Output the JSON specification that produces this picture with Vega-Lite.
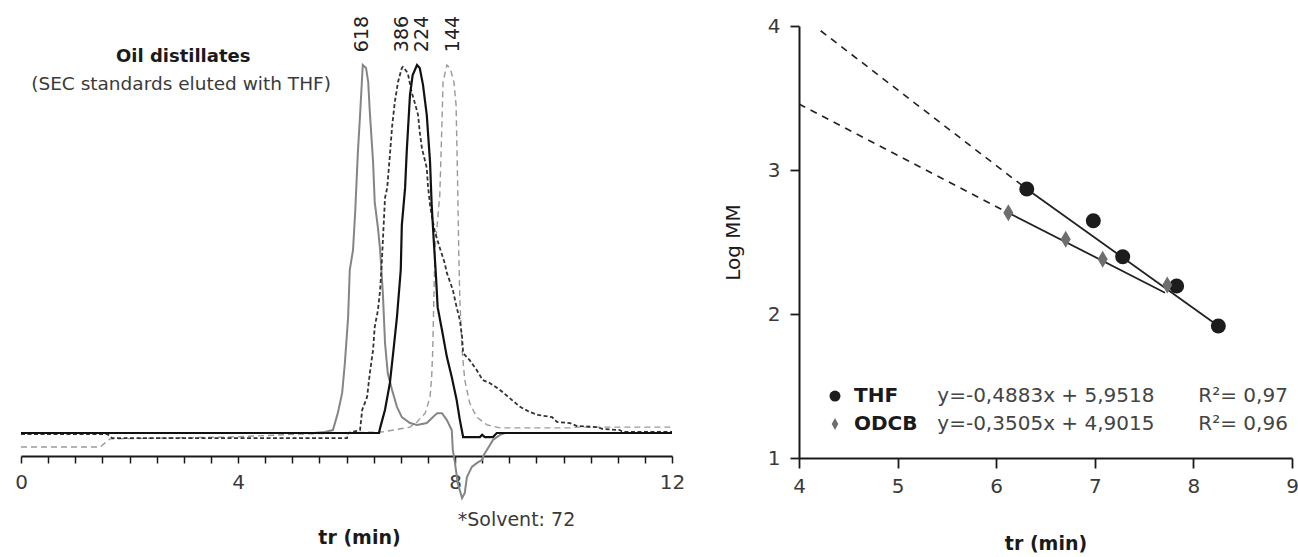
{
  "$schema": "https://vega.github.io/schema/vega-lite/v6.json",
  "padding": {"left": 14, "top": 15, "right": 0, "bottom": 2},
  "background": "white",
  "spacing": 38,
  "config": {
    "font": "DejaVu Sans",
    "view": {"stroke": null},
    "axis": {
      "grid": false,
      "domainColor": "#1a1a1a",
      "tickColor": "#1a1a1a",
      "labelColor": "#3a3a3a",
      "titleColor": "#1a1a1a",
      "labelFont": "DejaVu Sans",
      "titleFont": "DejaVu Sans",
      "labelFontSize": 20,
      "titleFontSize": 19,
      "titleFontWeight": "bold",
      "labelFlush": false,
      "labelOverlap": false
    }
  },
  "datasets": {
    "traces": [
      {"series": "144", "t": 0, "s": -3.8}, {"series": "144", "t": 1.46, "s": -3.8}, {"series": "144", "t": 1.64, "s": -1.6}, {"series": "144", "t": 3.85, "s": -1.1}, {"series": "144", "t": 5.14, "s": -0.3}, {"series": "144", "t": 6.67, "s": 0.3}, {"series": "144", "t": 7.17, "s": 1.6}, {"series": "144", "t": 7.3, "s": 3}, {"series": "144", "t": 7.45, "s": 5.4}, {"series": "144", "t": 7.54, "s": 9.8}, {"series": "144", "t": 7.57, "s": 15.2}, {"series": "144", "t": 7.59, "s": 22.6}, {"series": "144", "t": 7.63, "s": 49.7}, {"series": "144", "t": 7.72, "s": 64.7}, {"series": "144", "t": 7.76, "s": 84.5}, {"series": "144", "t": 7.78, "s": 95.4}, {"series": "144", "t": 7.85, "s": 100}, {"series": "144", "t": 7.91, "s": 99.2}, {"series": "144", "t": 7.98, "s": 95.4}, {"series": "144", "t": 8.02, "s": 89.1}, {"series": "144", "t": 8.05, "s": 66.6}, {"series": "144", "t": 8.07, "s": 48.4}, {"series": "144", "t": 8.09, "s": 36.1}, {"series": "144", "t": 8.13, "s": 22.6}, {"series": "144", "t": 8.18, "s": 14.4}, {"series": "144", "t": 8.27, "s": 8.2}, {"series": "144", "t": 8.4, "s": 4.3}, {"series": "144", "t": 8.59, "s": 2.2}, {"series": "144", "t": 8.83, "s": 1.4}, {"series": "144", "t": 10.12, "s": 1.4}, {"series": "144", "t": 10.25, "s": 1.6}, {"series": "144", "t": 12, "s": 1.6},

      {"series": "618", "t": 5.4, "s": 0}, {"series": "618", "t": 5.6, "s": 0.3}, {"series": "618", "t": 5.75, "s": 0.8}, {"series": "618", "t": 5.84, "s": 5.4}, {"series": "618", "t": 5.92, "s": 10.9}, {"series": "618", "t": 5.97, "s": 19}, {"series": "618", "t": 6.03, "s": 31.5}, {"series": "618", "t": 6.06, "s": 44.3}, {"series": "618", "t": 6.12, "s": 49.7}, {"series": "618", "t": 6.16, "s": 60}, {"series": "618", "t": 6.21, "s": 76.4}, {"series": "618", "t": 6.25, "s": 86.4}, {"series": "618", "t": 6.29, "s": 97.3}, {"series": "618", "t": 6.3, "s": 100}, {"series": "618", "t": 6.36, "s": 99.2}, {"series": "618", "t": 6.4, "s": 95.4}, {"series": "618", "t": 6.43, "s": 87.2}, {"series": "618", "t": 6.49, "s": 73.6}, {"series": "618", "t": 6.52, "s": 62.8}, {"series": "618", "t": 6.58, "s": 55.7}, {"series": "618", "t": 6.62, "s": 49.7}, {"series": "618", "t": 6.67, "s": 38}, {"series": "618", "t": 6.71, "s": 24.5}, {"series": "618", "t": 6.76, "s": 16.3}, {"series": "618", "t": 6.84, "s": 11.7}, {"series": "618", "t": 6.93, "s": 7.1}, {"series": "618", "t": 7.02, "s": 4.3}, {"series": "618", "t": 7.17, "s": 2.7}, {"series": "618", "t": 7.3, "s": 2.2}, {"series": "618", "t": 7.48, "s": 2.7}, {"series": "618", "t": 7.59, "s": 4.3}, {"series": "618", "t": 7.67, "s": 5.4}, {"series": "618", "t": 7.76, "s": 5.4}, {"series": "618", "t": 7.85, "s": 3.5}, {"series": "618", "t": 7.94, "s": 0.8}, {"series": "618", "t": 7.96, "s": -4.6}, {"series": "618", "t": 8.0, "s": -8.2}, {"series": "618", "t": 8.05, "s": -13.6}, {"series": "618", "t": 8.13, "s": -17.7}, {"series": "618", "t": 8.18, "s": -16.3}, {"series": "618", "t": 8.22, "s": -12}, {"series": "618", "t": 8.31, "s": -9.2}, {"series": "618", "t": 8.4, "s": -8.2}, {"series": "618", "t": 8.5, "s": -7.3}, {"series": "618", "t": 8.53, "s": -6}, {"series": "618", "t": 8.61, "s": -4.1}, {"series": "618", "t": 8.7, "s": -1.9}, {"series": "618", "t": 8.83, "s": -0.5}, {"series": "618", "t": 8.92, "s": 0},

      {"series": "386", "t": 0, "s": -0.3}, {"series": "386", "t": 1.59, "s": -0.3}, {"series": "386", "t": 1.68, "s": -1.4}, {"series": "386", "t": 6.01, "s": -1.4}, {"series": "386", "t": 6.03, "s": 0}, {"series": "386", "t": 6.25, "s": 0.8}, {"series": "386", "t": 6.29, "s": 6.3}, {"series": "386", "t": 6.38, "s": 9.8}, {"series": "386", "t": 6.43, "s": 16.3}, {"series": "386", "t": 6.49, "s": 22.6}, {"series": "386", "t": 6.52, "s": 28.8}, {"series": "386", "t": 6.58, "s": 33.4}, {"series": "386", "t": 6.62, "s": 38.9}, {"series": "386", "t": 6.65, "s": 46.2}, {"series": "386", "t": 6.71, "s": 63.9}, {"series": "386", "t": 6.75, "s": 66.6}, {"series": "386", "t": 6.8, "s": 75.5}, {"series": "386", "t": 6.84, "s": 83.2}, {"series": "386", "t": 6.89, "s": 89.9}, {"series": "386", "t": 6.95, "s": 95.4}, {"series": "386", "t": 7.02, "s": 99.2}, {"series": "386", "t": 7.04, "s": 99.5}, {"series": "386", "t": 7.13, "s": 97.8}, {"series": "386", "t": 7.2, "s": 92.7}, {"series": "386", "t": 7.26, "s": 89.7}, {"series": "386", "t": 7.32, "s": 86.4}, {"series": "386", "t": 7.35, "s": 81.8}, {"series": "386", "t": 7.39, "s": 77.4}, {"series": "386", "t": 7.48, "s": 72}, {"series": "386", "t": 7.5, "s": 67.4}, {"series": "386", "t": 7.54, "s": 62}, {"series": "386", "t": 7.57, "s": 59.2}, {"series": "386", "t": 7.63, "s": 54.6}, {"series": "386", "t": 7.72, "s": 50.3}, {"series": "386", "t": 7.81, "s": 46.2}, {"series": "386", "t": 7.85, "s": 43.5}, {"series": "386", "t": 7.96, "s": 38.9}, {"series": "386", "t": 8.03, "s": 34.2}, {"series": "386", "t": 8.09, "s": 30.7}, {"series": "386", "t": 8.13, "s": 26.1}, {"series": "386", "t": 8.15, "s": 21.7}, {"series": "386", "t": 8.27, "s": 19.8}, {"series": "386", "t": 8.4, "s": 17.1}, {"series": "386", "t": 8.51, "s": 14.4}, {"series": "386", "t": 8.64, "s": 13.6}, {"series": "386", "t": 8.83, "s": 11.7}, {"series": "386", "t": 9.2, "s": 7.1}, {"series": "386", "t": 9.38, "s": 5.7}, {"series": "386", "t": 9.53, "s": 4.9}, {"series": "386", "t": 9.79, "s": 4.3}, {"series": "386", "t": 9.88, "s": 3}, {"series": "386", "t": 10.12, "s": 2.7}, {"series": "386", "t": 10.25, "s": 1.9}, {"series": "386", "t": 10.62, "s": 1.6}, {"series": "386", "t": 10.72, "s": 1.1}, {"series": "386", "t": 11.04, "s": 0.8}, {"series": "386", "t": 11.09, "s": 0.3}, {"series": "386", "t": 12, "s": 0.3},

      {"series": "224", "t": 0, "s": 0}, {"series": "224", "t": 6.6, "s": 0}, {"series": "224", "t": 6.62, "s": 1.4}, {"series": "224", "t": 6.71, "s": 6.3}, {"series": "224", "t": 6.8, "s": 13.6}, {"series": "224", "t": 6.86, "s": 21.7}, {"series": "224", "t": 6.93, "s": 31.5}, {"series": "224", "t": 7.0, "s": 44.3}, {"series": "224", "t": 7.02, "s": 56.5}, {"series": "224", "t": 7.08, "s": 66.6}, {"series": "224", "t": 7.11, "s": 76.4}, {"series": "224", "t": 7.17, "s": 91.8}, {"series": "224", "t": 7.22, "s": 97.3}, {"series": "224", "t": 7.3, "s": 100}, {"series": "224", "t": 7.35, "s": 99.2}, {"series": "224", "t": 7.41, "s": 94.6}, {"series": "224", "t": 7.48, "s": 86.4}, {"series": "224", "t": 7.54, "s": 73.6}, {"series": "224", "t": 7.57, "s": 62}, {"series": "224", "t": 7.61, "s": 51.9}, {"series": "224", "t": 7.65, "s": 42.4}, {"series": "224", "t": 7.68, "s": 34.2}, {"series": "224", "t": 7.76, "s": 28}, {"series": "224", "t": 7.85, "s": 20.7}, {"series": "224", "t": 7.94, "s": 15.2}, {"series": "224", "t": 8.03, "s": 9}, {"series": "224", "t": 8.09, "s": 3.5}, {"series": "224", "t": 8.15, "s": -1.1}, {"series": "224", "t": 8.46, "s": -1.1}, {"series": "224", "t": 8.5, "s": -0.5}, {"series": "224", "t": 8.55, "s": -1.1}, {"series": "224", "t": 8.7, "s": -1.1}, {"series": "224", "t": 8.77, "s": 0}, {"series": "224", "t": 12, "s": 0}
    ],
    "leftText": [
      {"kind": "peak", "t": 6.285, "s": 103.5, "label": "618"},
      {"kind": "peak", "t": 7.02, "s": 103.5, "label": "386"},
      {"kind": "peak", "t": 7.39, "s": 103.5, "label": "224"},
      {"kind": "peak", "t": 7.96, "s": 103.5, "label": "144"},
      {"kind": "title", "t": 2.99, "s": 102.2, "label": "Oil distillates"},
      {"kind": "subtitle", "t": 2.95, "s": 94.8, "label": "(SEC standards eluted with THF)"},
      {"kind": "note", "t": 8.05, "s": -23.6, "label": "*Solvent: 72"}
    ],
    "fits": [
      {"g": "THF", "seg": "dash", "x": 4.22, "y": 3.967},
      {"g": "THF", "seg": "dash", "x": 6.31, "y": 2.868},
      {"g": "ODCB", "seg": "dash", "x": 4.0, "y": 3.458},
      {"g": "ODCB", "seg": "dash", "x": 6.12, "y": 2.703},
      {"g": "THF", "seg": "solid", "x": 6.31, "y": 2.868},
      {"g": "THF", "seg": "solid", "x": 8.253, "y": 1.917},
      {"g": "ODCB", "seg": "solid", "x": 6.123, "y": 2.703},
      {"g": "ODCB", "seg": "solid", "x": 7.712, "y": 2.148}
    ],
    "points": [
      {"g": "THF", "x": 6.31, "y": 2.868},
      {"g": "THF", "x": 6.985, "y": 2.648},
      {"g": "THF", "x": 7.283, "y": 2.398},
      {"g": "THF", "x": 7.83, "y": 2.194},
      {"g": "THF", "x": 8.253, "y": 1.917},
      {"g": "ODCB", "x": 6.123, "y": 2.703},
      {"g": "ODCB", "x": 6.705, "y": 2.519},
      {"g": "ODCB", "x": 7.08, "y": 2.38},
      {"g": "ODCB", "x": 7.735, "y": 2.201}
    ],
    "legendSym": [
      {"g": "THF", "x": 4.365, "y": 1.43},
      {"g": "ODCB", "x": 4.365, "y": 1.236}
    ],
    "legendText": [
      {"kind": "name", "x": 4.558, "y": 1.43, "label": "THF"},
      {"kind": "name", "x": 4.558, "y": 1.236, "label": "ODCB"},
      {"kind": "eq", "x": 5.403, "y": 1.43, "label": "y=-0,4883x + 5,9518"},
      {"kind": "eq", "x": 5.403, "y": 1.236, "label": "y=-0,3505x + 4,9015"},
      {"kind": "eq", "x": 8.05, "y": 1.43, "label": "R²= 0,97"},
      {"kind": "eq", "x": 8.05, "y": 1.236, "label": "R²= 0,96"}
    ]
  },
  "hconcat": [
    {
      "width": 651,
      "height": 430,
      "encoding": {
        "x": {
          "field": "t", "type": "quantitative",
          "scale": {"domain": [0, 12], "nice": false},
          "axis": {
            "title": "tr (min)",
            "values": [0, 0.5, 1, 1.5, 2, 2.5, 3, 3.5, 4, 4.5, 5, 5.5, 6, 6.5, 7, 7.5, 8, 8.5, 9, 9.5, 10, 10.5, 11, 11.5, 12],
            "labelExpr": "datum.value % 4 === 0 ? format(datum.value, 'd') : ''",
            "tickSize": 7, "tickWidth": 1.5, "domainWidth": 2,
            "labelPadding": 9, "titlePadding": 36, "titleX": 338
          }
        },
        "y": {
          "field": "s", "type": "quantitative",
          "scale": {"domain": [-6.25, 110.6], "nice": false, "zero": false},
          "axis": null
        }
      },
      "layer": [
        {
          "data": {"name": "traces"},
          "transform": [{"filter": "datum.series === '144'"}],
          "mark": {"type": "line", "color": "#9a9a9a", "strokeWidth": 1.4, "strokeDash": [6, 4]}
        },
        {
          "data": {"name": "traces"},
          "transform": [{"filter": "datum.series === '618'"}],
          "mark": {"type": "line", "color": "#858585", "strokeWidth": 2}
        },
        {
          "data": {"name": "traces"},
          "transform": [{"filter": "datum.series === '386'"}],
          "mark": {"type": "line", "color": "#333333", "strokeWidth": 1.8, "strokeDash": [4, 2.5]}
        },
        {
          "data": {"name": "traces"},
          "transform": [{"filter": "datum.series === '224'"}],
          "mark": {"type": "line", "color": "#111111", "strokeWidth": 2.2}
        },
        {
          "data": {"name": "leftText"},
          "transform": [{"filter": "datum.kind === 'peak'"}],
          "mark": {"type": "text", "angle": 270, "align": "left", "baseline": "middle", "fontSize": 19, "color": "#222222"},
          "encoding": {"text": {"field": "label"}}
        },
        {
          "data": {"name": "leftText"},
          "transform": [{"filter": "datum.kind === 'title'"}],
          "mark": {"type": "text", "align": "center", "baseline": "middle", "fontSize": 18, "fontWeight": "bold", "color": "#1a1a1a"},
          "encoding": {"text": {"field": "label"}}
        },
        {
          "data": {"name": "leftText"},
          "transform": [{"filter": "datum.kind === 'subtitle'"}],
          "mark": {"type": "text", "align": "center", "baseline": "middle", "fontSize": 18.5, "color": "#3a3a3a"},
          "encoding": {"text": {"field": "label"}}
        },
        {
          "data": {"name": "leftText"},
          "transform": [{"filter": "datum.kind === 'note'"}],
          "mark": {"type": "text", "align": "left", "baseline": "middle", "fontSize": 19, "color": "#3a3a3a"},
          "encoding": {"text": {"field": "label"}}
        }
      ]
    },
    {
      "width": 493,
      "height": 432,
      "encoding": {
        "x": {
          "field": "x", "type": "quantitative",
          "scale": {"domain": [4, 9], "nice": false, "zero": false},
          "axis": {
            "title": "tr (min)",
            "values": [4, 5, 6, 7, 8, 9],
            "tickSize": 10, "tickWidth": 1.8, "domainWidth": 2,
            "labelPadding": 8, "titlePadding": 38
          }
        },
        "y": {
          "field": "y", "type": "quantitative",
          "scale": {"domain": [1, 4], "nice": false, "zero": false},
          "axis": {
            "title": "Log MM",
            "titleFontWeight": "normal",
            "titleFontSize": 20,
            "values": [1, 2, 3, 4],
            "tickSize": 9, "tickWidth": 1.8, "domainWidth": 2,
            "labelPadding": 10, "titlePadding": 24
          }
        }
      },
      "layer": [
        {
          "data": {"name": "fits"},
          "transform": [{"filter": "datum.seg === 'dash'"}],
          "mark": {"type": "line", "color": "#222222", "strokeWidth": 1.6, "strokeDash": [7, 6]},
          "encoding": {"detail": {"field": "g"}}
        },
        {
          "data": {"name": "fits"},
          "transform": [{"filter": "datum.seg === 'solid'"}],
          "mark": {"type": "line", "color": "#222222", "strokeWidth": 1.8},
          "encoding": {"detail": {"field": "g"}}
        },
        {
          "data": {"name": "points"},
          "transform": [{"filter": "datum.g === 'THF'"}],
          "mark": {"type": "point", "shape": "circle", "filled": true, "size": 225, "color": "#1c1c1c", "opacity": 1}
        },
        {
          "data": {"name": "points"},
          "transform": [{"filter": "datum.g === 'ODCB'"}],
          "mark": {"type": "point", "shape": "M0,-1L0.59,0L0,1L-0.59,0Z", "filled": true, "size": 289, "color": "#6e6e6e", "opacity": 1}
        },
        {
          "data": {"name": "legendSym"},
          "transform": [{"filter": "datum.g === 'THF'"}],
          "mark": {"type": "point", "shape": "circle", "filled": true, "size": 121, "color": "#1c1c1c", "opacity": 1}
        },
        {
          "data": {"name": "legendSym"},
          "transform": [{"filter": "datum.g === 'ODCB'"}],
          "mark": {"type": "point", "shape": "M0,-1L0.55,0L0,1L-0.55,0Z", "filled": true, "size": 144, "color": "#6e6e6e", "opacity": 1}
        },
        {
          "data": {"name": "legendText"},
          "transform": [{"filter": "datum.kind === 'name'"}],
          "mark": {"type": "text", "align": "left", "baseline": "middle", "fontSize": 20, "fontWeight": "bold", "color": "#1a1a1a"},
          "encoding": {"text": {"field": "label"}}
        },
        {
          "data": {"name": "legendText"},
          "transform": [{"filter": "datum.kind === 'eq'"}],
          "mark": {"type": "text", "align": "left", "baseline": "middle", "fontSize": 20, "color": "#444444"},
          "encoding": {"text": {"field": "label"}}
        }
      ]
    }
  ]
}
